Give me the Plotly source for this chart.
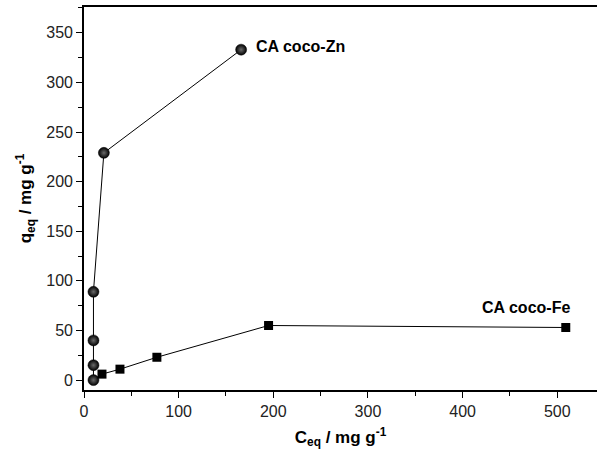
import plotly.graph_objects as go

# Adsorption isotherm data (C_eq, q_eq)
zn_ceq = [10, 10, 10, 10, 21, 166]
zn_qeq = [0, 15, 40, 89, 229, 333]
fe_ceq = [19, 38, 77, 195, 509]
fe_qeq = [6, 11, 23, 55, 53]

FONT = "Liberation Sans, Arial, sans-serif"

fig = go.Figure()
fig.add_trace(go.Scatter(
    x=zn_ceq, y=zn_qeq, mode="lines+markers", name="CA coco-Zn",
    line=dict(color="black", width=1),
    marker=dict(symbol="circle", size=11, color="black",
                gradient=dict(type="radial", color="#6a6a6a"),
                line=dict(color="black", width=0.5)),
))
fig.add_trace(go.Scatter(
    x=fe_ceq, y=fe_qeq, mode="lines+markers", name="CA coco-Fe",
    line=dict(color="black", width=1),
    marker=dict(symbol="square", size=9, color="black"),
))

fig.add_annotation(x=zn_ceq[-1], y=zn_qeq[-1], text="<b>CA coco-Zn</b>",
                   xanchor="left", yanchor="middle", xshift=13, yshift=3,
                   showarrow=False, font=dict(family=FONT, size=16, color="black"))
fig.add_annotation(x=fe_ceq[-1], y=fe_qeq[-1], text="<b>CA coco-Fe</b>",
                   xanchor="center", yanchor="middle", xshift=-40, yshift=20,
                   showarrow=False, font=dict(family=FONT, size=16, color="black"))

axis_common = dict(
    showline=True, linecolor="black", linewidth=1.6,
    ticks="outside", ticklen=6, tickwidth=1.2, tickcolor="black",
    showgrid=False, zeroline=False,
    tickfont=dict(family=FONT, size=16, color="#222"),
)

fig.update_xaxes(
    **axis_common, mirror=True, range=[0, 542], dtick=100, tick0=0,
    minor=dict(ticks="outside", ticklen=4, dtick=50, tick0=0, tickcolor="black", tickwidth=1.2),
    title=dict(text="<b>C<sub>eq</sub> / mg g<sup>-1</sup></b>",
               font=dict(family=FONT, size=17, color="black"), standoff=12),
)
fig.update_yaxes(
    **axis_common, mirror=False, range=[-10, 376], dtick=50, tick0=0,
    minor=dict(ticks="outside", ticklen=4, dtick=25, tick0=0, tickcolor="black", tickwidth=1.2),
    title=dict(text="<b>q<sub>eq</sub> / mg g<sup>-1</sup></b>",
               font=dict(family=FONT, size=17, color="black"), standoff=10),
)

fig.update_layout(
    width=597, height=462,
    margin=dict(l=84, r=0, t=7, b=72),
    paper_bgcolor="white", plot_bgcolor="white",
    showlegend=False,
)

fig.write_html("out.html")
